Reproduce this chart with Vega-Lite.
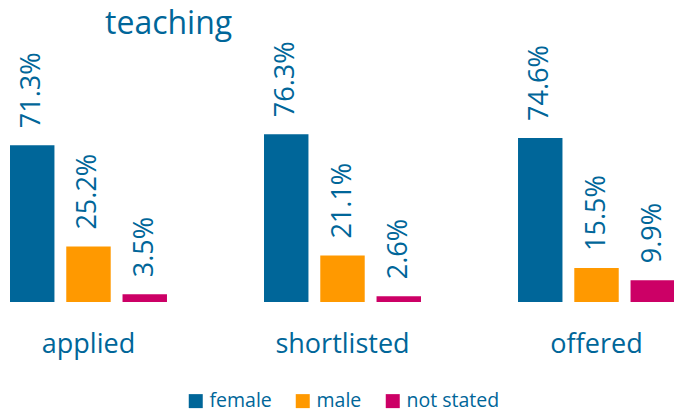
{
  "$schema": "https://vega.github.io/schema/vega-lite/v6.json",
  "autosize": "none",
  "width": 674,
  "height": 262,
  "padding": {"top": 40, "bottom": 110, "left": 0, "right": 0},
  "background": "white",
  "config": {"view": {"stroke": null}, "font": "Open Sans"},
  "title": {"text": "teaching", "anchor": "start", "dx": 105, "fontSize": 32, "font": "Open Sans", "fontWeight": "normal", "color": "#006699", "baseline": "alphabetic", "offset": -26},
  "data": {"values": [
    {"stage": "applied", "gender": "female", "v": 0.713},
    {"stage": "applied", "gender": "male", "v": 0.252},
    {"stage": "applied", "gender": "not stated", "v": 0.035},
    {"stage": "shortlisted", "gender": "female", "v": 0.763},
    {"stage": "shortlisted", "gender": "male", "v": 0.211},
    {"stage": "shortlisted", "gender": "not stated", "v": 0.026},
    {"stage": "offered", "gender": "female", "v": 0.746},
    {"stage": "offered", "gender": "male", "v": 0.155},
    {"stage": "offered", "gender": "not stated", "v": 0.099}
  ]},
  "encoding": {
    "x": {"field": "stage", "type": "nominal", "sort": ["applied", "shortlisted", "offered"],
      "scale": {"range": [10, 675], "paddingInner": 0.382, "paddingOuter": 0},
      "axis": {"title": null, "domain": false, "ticks": false, "labelAngle": 0, "labelFontSize": 27, "labelFont": "Open Sans", "labelColor": "#006699", "labelPadding": 29}},
    "xOffset": {"field": "gender", "type": "nominal", "sort": ["female", "male", "not stated"],
      "scale": {"paddingInner": 0.21, "paddingOuter": 0}},
    "y": {"field": "v", "type": "quantitative", "scale": {"domain": [0, 1.191], "nice": false}, "axis": null}
  },
  "layer": [
    {"mark": {"type": "bar"},
     "encoding": {"color": {"field": "gender", "type": "nominal",
       "scale": {"domain": ["female", "male", "not stated"], "range": ["#006699", "#FF9900", "#CC0066"]},
       "legend": {"title": null, "orient": "none", "legendX": 186, "legendY": 351, "direction": "horizontal",
         "symbolType": "square", "symbolSize": 196, "symbolStrokeWidth": 0, "symbolOpacity": 1,
         "labelFontSize": 19.5, "labelFont": "Open Sans", "labelColor": "#006699", "labelOffset": 4, "columnPadding": 21}}}},
    {"mark": {"type": "text", "angle": 270, "align": "left", "baseline": "middle", "dx": 17, "fontSize": 27, "font": "Open Sans", "color": "#006699"},
     "encoding": {"text": {"field": "v", "type": "quantitative", "format": ".1%"}}}
  ]
}
